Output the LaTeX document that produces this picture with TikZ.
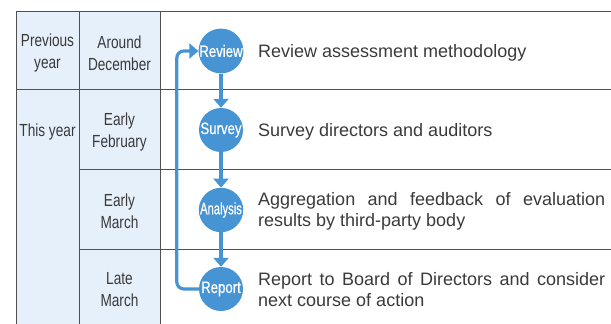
\documentclass[tikz,border=0pt]{standalone}
\usepackage{fontspec}
\setmainfont{Liberation Sans}
\newfontfamily\cellfont[FakeStretch=0.78]{Liberation Sans}
\newfontfamily\tagfont[FakeStretch=0.8,FakeBold=0.6]{Liberation Sans}
\newfontfamily\tagfontslim[FakeStretch=0.68,FakeBold=0.6]{Liberation Sans}
\usetikzlibrary{arrows.meta,positioning,calc}
\definecolor{ink}{RGB}{58,58,58}
\definecolor{rule}{RGB}{80,80,80}
\definecolor{pale}{RGB}{230,240,250}
\definecolor{blue}{RGB}{70,148,212}
\hyphenpenalty=10000
\tikzset{
  flow/.style={-{Triangle[width=15pt,length=9pt]},line width=3.2pt,draw=blue},
  stage/.style={circle,fill=blue,text=white,minimum size=44pt,inner sep=0pt,
                font=\tagfont\fontsize{16.5}{16}\selectfont},
  cell/.style={align=center,text=ink,font=\cellfont\fontsize{17.5}{22}\selectfont},
  task/.style={anchor=west,text=ink,inner sep=0pt,font=\fontsize{18}{21}\selectfont}
}

\begin{document}
\begin{tikzpicture}[x=1pt,y=-1pt]
  \useasboundingbox (0,0) rectangle (611,324);
  % shaded label columns
  \fill[pale] (16,11) rectangle (160,324);
  \draw[rule,line width=0.8pt] (16,324) -- (16,11) -- (611,11);
  \draw[rule,line width=0.8pt] (79,11) -- (79,324);
  \draw[rule,line width=0.8pt] (160,11) -- (160,324);
  \draw[rule,line width=0.8pt] (16,89) -- (611,89);
  \draw[rule,line width=0.8pt] (79,169) -- (611,169);
  \draw[rule,line width=0.8pt] (79,249) -- (611,249);

  \node[cell] (prev) at (47.5,53) {Previous\\year};
  \node[cell] (this) at (47.5,132) {This year};
  \node[cell] (dec) at (119.5,53) {Around\\December};
  \node[cell] (feb) at (119.5,132) {Early\\February};
  \node[cell] (mar) at (119.5,211) {Early\\March};
  \node[cell] (latemar) at (119.5,290) {Late\\March};

  % process steps
  \node[stage] (review) at (221,51) {Review};
  \node[stage] (survey) at (221,130) {Survey};
  \node[stage,font=\tagfontslim\fontsize{16.5}{16}\selectfont] (analysis) at (221,210) {Analysis};
  \node[stage] (report) at (221,289) {Report};
  \draw[flow] (review)--(survey);
  \draw[flow] (survey)--(analysis);
  \draw[flow] (analysis)--(report);
  \draw[flow,rounded corners=7pt] (report.west) -- ++(-22,0) |- (review.west);

  \node[task] (reviewtext) at (258,53) {Review assessment methodology};
  \node[task] (surveytext) at (258,132) {Survey directors and auditors};
  \node[task,text width=347pt,align=justify] (analysistext) at (258,211)
    {Aggregation and feedback of evaluation results by third-party body};
  \node[task,text width=347pt,align=justify] (reporttext) at (258,290)
    {Report to Board of Directors and consider next course of action};
\end{tikzpicture}
\end{document}
